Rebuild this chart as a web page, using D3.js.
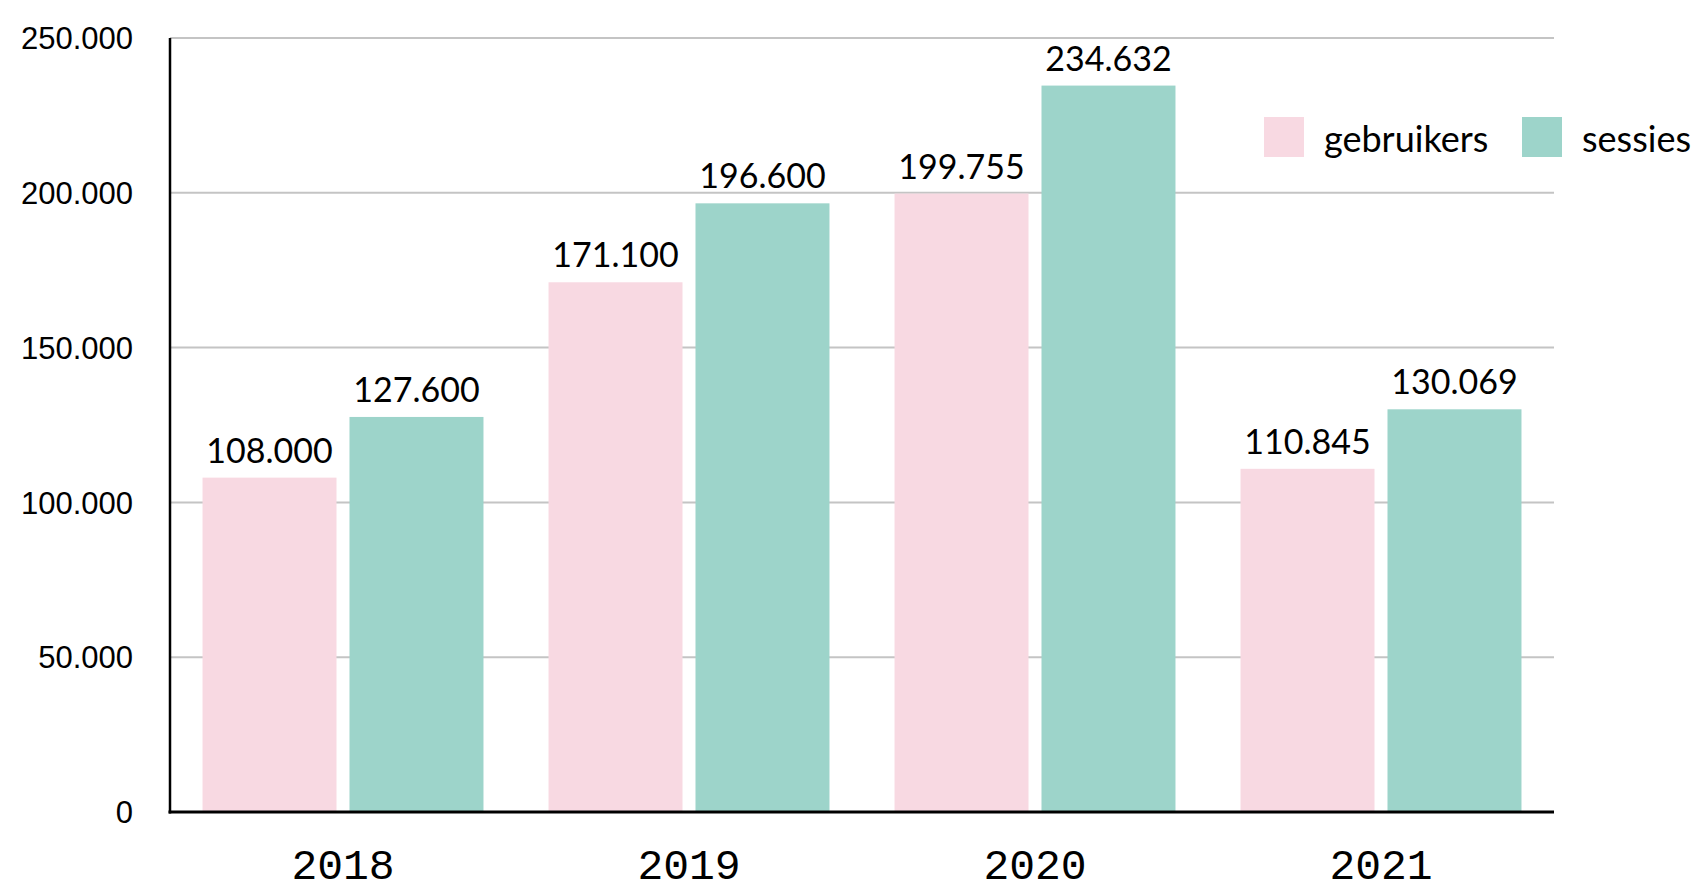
<!DOCTYPE html>
<html>
<head>
<meta charset="utf-8">
<script src="https://cdn.jsdelivr.net/npm/d3@7"></script>
<style>
  html, body { margin: 0; padding: 0; background: #fff; }
  svg { display: block; }
</style>
</head>
<body>
<div id="chart"></div>
<script>
// Data
const years      = ['2018', '2019', '2020', '2021'];
const seriesKeys = ['gebruikers', 'sessies'];
const gebruikers = [108000, 171100, 199755, 110845];
const sessies    = [127600, 196600, 234632, 130069];
const yTicks     = [0, 50000, 100000, 150000, 200000, 250000];

// Configuration
const width   = 1701;
const height  = 885;
const plotL   = 170;
const plotR   = 1554;
const plotT   = 38;
const plotB   = 812;
const colors  = { gebruikers: '#f8d9e2', sessies: '#9dd4ca' };

const nl = d3.formatLocale({ decimal: ',', thousands: '.', grouping: [3], currency: ['€', ''] });
const fmt = nl.format(',d');

const rows = years.map((y, i) => ({ year: y, gebruikers: gebruikers[i], sessies: sessies[i] }));

const svg = d3.select('#chart')
  .append('svg')
    .attr('width', width)
    .attr('height', height);

// Scales
const x0 = d3.scaleBand()
  .domain(years)
  .range([plotL, plotR])
  .paddingInner(0.188)
  .paddingOuter(0.094);

const x1 = d3.scaleBand()
  .domain(seriesKeys)
  .range([0, x0.bandwidth()])
  .paddingInner(0.0884);

const y = d3.scaleLinear()
  .domain([0, 250000])
  .range([plotB, plotT]);

// Gridlines
svg.append('g')
  .selectAll('line')
  .data(yTicks.filter(d => d > 0))
  .join('line')
    .attr('x1', plotL)
    .attr('x2', plotR)
    .attr('y1', d => y(d))
    .attr('y2', d => y(d))
    .attr('stroke', '#c4c4c4')
    .attr('stroke-width', 2);

// Y axis labels
svg.append('g')
  .selectAll('text')
  .data(yTicks)
  .join('text')
    .attr('x', 133)
    .attr('y', d => y(d))
    .attr('dy', '0.36em')
    .attr('text-anchor', 'end')
    .attr('font-family', '"Liberation Sans", Arial, sans-serif')
    .attr('font-size', 31)
    .attr('fill', '#000')
    .text(d => fmt(d));

// Bars
const groups = svg.append('g')
  .selectAll('g')
  .data(rows)
  .join('g')
    .attr('transform', d => `translate(${x0(d.year)},0)`);

groups.selectAll('rect')
  .data(d => seriesKeys.map(k => ({ key: k, value: d[k] })))
  .join('rect')
    .attr('x', d => x1(d.key))
    .attr('y', d => y(d.value))
    .attr('width', x1.bandwidth())
    .attr('height', d => y(0) - y(d.value))
    .attr('fill', d => colors[d.key]);

// Value labels
groups.selectAll('text')
  .data(d => seriesKeys.map(k => ({ key: k, value: d[k] })))
  .join('text')
    .attr('x', d => x1(d.key) + x1.bandwidth() / 2)
    .attr('y', d => y(d.value) - 15)
    .attr('text-anchor', 'middle')
    .attr('font-family', 'Lato, "Noto Sans", sans-serif')
    .attr('font-size', 34)
    .attr('fill', '#000')
    .text(d => fmt(d.value));

// Axis lines
svg.append('line')
  .attr('x1', plotL).attr('x2', plotL)
  .attr('y1', plotT).attr('y2', plotB + 1.5)
  .attr('stroke', '#000')
  .attr('stroke-width', 2.5);

svg.append('line')
  .attr('x1', plotL - 1.5).attr('x2', plotR)
  .attr('y1', plotB).attr('y2', plotB)
  .attr('stroke', '#000')
  .attr('stroke-width', 3);

// X axis labels
svg.append('g')
  .selectAll('text')
  .data(years)
  .join('text')
    .attr('x', d => x0(d) + x0.bandwidth() / 2)
    .attr('y', 879)
    .attr('text-anchor', 'middle')
    .attr('font-family', '"Liberation Mono", "DejaVu Sans Mono", monospace')
    .attr('font-size', 43)
    .attr('fill', '#000')
    .text(d => d);

// Legend
const legendX = [1264, 1522];
const legend = svg.append('g')
  .selectAll('g')
  .data(seriesKeys)
  .join('g')
    .attr('transform', (d, i) => `translate(${legendX[i]},117)`);

legend.append('rect')
  .attr('width', 40)
  .attr('height', 40)
  .attr('fill', d => colors[d]);

legend.append('text')
  .attr('x', 60)
  .attr('y', 35)
  .attr('font-family', 'Lato, "Noto Sans", sans-serif')
  .attr('font-size', 36)
  .attr('fill', '#000')
  .text(d => d);
</script>
</body>
</html>
